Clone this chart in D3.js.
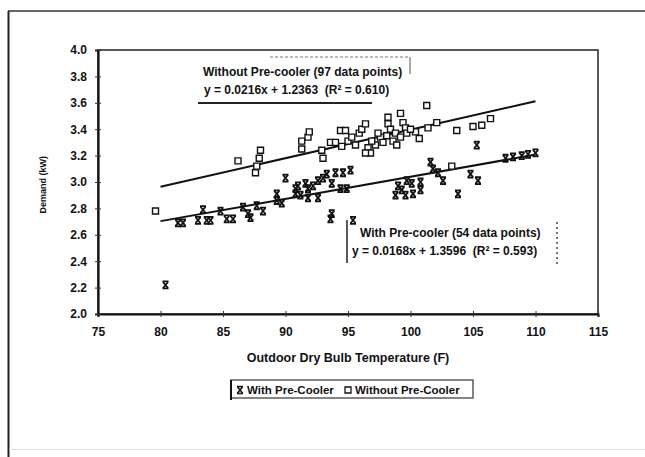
<!DOCTYPE html>
<meta charset="utf-8">
<head>
    <title>Demand vs Outdoor Dry Bulb Temperature</title>
    <style>
      body { margin: 0; background: #fff; }
      text { font-family: "Liberation Sans", Arial, sans-serif; font-weight: bold; fill: #111; white-space: pre; }
    </style>
</head>
<script src="https://d3js.org/d3.v7.min.js"></script>
<div id="my_dataviz"></div>
<script>

// ---- data ----
// with pre-cooler (x markers): temperature (F), demand (kW)
var withTemp = [80.4, 81.4, 81.8, 83.0, 83.4, 83.7, 84.0, 84.8, 85.3, 85.8, 86.6, 87.0, 87.2, 87.7, 88.2,
  89.3, 89.3, 89.7, 90.0, 90.8, 91.0, 91.6, 91.8, 92.2, 92.6, 93.0, 93.3, 94.0, 94.6, 95.2, 93.7, 94.4,
  94.9, 90.8, 91.2, 91.8, 92.6, 93.6, 93.7, 95.4, 99.0, 99.3, 99.6, 98.8, 99.7, 100.1, 100.8, 101.6,
  101.8, 102.2, 102.6, 100.8, 100.2, 103.8, 104.8, 105.4, 105.3, 107.6, 108.2, 108.9, 109.4, 110.0];
var withDemand = [2.22, 2.69, 2.69, 2.71, 2.79, 2.71, 2.71, 2.78, 2.72, 2.72, 2.81, 2.76, 2.73, 2.82, 2.78,
  2.91, 2.86, 2.84, 3.03, 2.95, 2.97, 2.99, 2.95, 2.97, 3.01, 3.03, 3.06, 3.07, 3.07, 3.09, 2.99, 2.95,
  2.95, 2.91, 2.90, 2.88, 2.88, 2.72, 2.76, 2.71, 2.97, 2.94, 2.90, 2.90, 3.01, 2.99, 3.00, 3.15,
  3.10, 3.07, 3.01, 2.94, 2.91, 2.91, 3.06, 3.01, 3.28, 3.18, 3.19, 3.20, 3.21, 3.22];

// without pre-cooler (square markers)
var withoutTemp = [79.6, 86.2, 87.6, 87.7, 87.9, 88.0, 91.3, 91.3, 91.8, 91.9, 92.9, 93.0, 93.6, 94.0, 94.4,
  94.8, 95.0, 95.3, 95.9, 96.1, 96.4, 96.6, 96.8, 96.4, 97.2, 97.6, 97.8, 98.1, 98.2, 98.2, 98.4, 98.6,
  98.8, 99.2, 99.4, 99.6, 99.7, 100.4, 101.3, 101.4, 102.1, 103.3, 103.7, 105.0, 105.7, 106.4, 99.2,
  94.5, 95.6, 97.4, 96.9, 98.9, 100.0, 100.7];
var withoutDemand = [2.78, 3.16, 3.07, 3.12, 3.18, 3.24, 3.31, 3.25, 3.34, 3.38, 3.24, 3.18, 3.30, 3.30, 3.39,
  3.39, 3.31, 3.34, 3.37, 3.40, 3.44, 3.26, 3.22, 3.22, 3.28, 3.34, 3.30, 3.35, 3.44, 3.49, 3.40, 3.31,
  3.37, 3.34, 3.45, 3.41, 3.37, 3.38, 3.58, 3.41, 3.45, 3.12, 3.39, 3.42, 3.43, 3.48, 3.52,
  3.27, 3.28, 3.37, 3.31, 3.28, 3.40, 3.33];

// trend lines (slope, intercept) and their range
var trendWithout = [0.0216, 1.2363];
var trendWith = [0.0168, 1.3596];
var trendRange = [80, 110];

var xTicks = [75, 80, 85, 90, 95, 100, 105, 110, 115];
var yTicks = [2.0, 2.2, 2.4, 2.6, 2.8, 3.0, 3.2, 3.4, 3.6, 3.8, 4.0];

var width = 645, height = 457;

var svg = d3.select("#my_dataviz")
  .append("svg")
    .attr("width", width)
    .attr("height", height);

// outer chart frame
svg.append("line").attr("x1", 8).attr("y1", 11).attr("x2", width).attr("y2", 11)
  .attr("stroke", "#333").attr("stroke-width", 1.5);
svg.append("line").attr("x1", 8.5).attr("y1", 11).attr("x2", 8.5).attr("y2", height)
  .attr("stroke", "#222").attr("stroke-width", 2);
svg.append("line").attr("x1", 9).attr("y1", 449.5).attr("x2", width).attr("y2", 449.5)
  .attr("stroke", "#ddd").attr("stroke-width", 1);

var xScale = d3.scaleLinear().domain([75, 115]).range([98, 598]);
var yScale = d3.scaleLinear().domain([2.0, 4.0]).range([314, 50]);

// plot area box
svg.append("rect")
  .attr("x", xScale(75)).attr("y", yScale(4))
  .attr("width", xScale(115) - xScale(75))
  .attr("height", yScale(2) - yScale(4))
  .attr("fill", "none").attr("stroke", "#222").attr("stroke-width", 1.5);

// axes
var xAxis = d3.axisBottom(xScale).tickValues(xTicks).tickSize(3).tickFormat(d3.format("d"));
var yAxis = d3.axisLeft(yScale).tickValues(yTicks).tickSize(3).tickFormat(d3.format(".1f"));

var gx = svg.append("g").attr("transform", "translate(0," + yScale(2) + ")").call(xAxis);
gx.select(".domain").attr("stroke", "#111").attr("stroke-width", 2.2);
gx.selectAll(".tick line").attr("y1", -3).attr("y2", 3).attr("stroke", "#333");
gx.selectAll(".tick text").attr("y", 13).style("font-size", "12px")
  .style("font-family", "'Liberation Sans', Arial, sans-serif").style("font-weight", "bold").attr("fill", "#111");

var gy = svg.append("g").attr("transform", "translate(" + xScale(75) + ",0)").call(yAxis);
gy.select(".domain").attr("stroke", "#111").attr("stroke-width", 2.2);
gy.selectAll(".tick line").attr("x1", -3).attr("x2", 3).attr("stroke", "#333");
gy.selectAll(".tick text").attr("x", -11).style("font-size", "12px")
  .style("font-family", "'Liberation Sans', Arial, sans-serif").style("font-weight", "bold").attr("fill", "#111");

// axis titles
svg.append("text")
  .attr("x", 348).attr("y", 362)
  .attr("text-anchor", "middle")
  .style("font-size", "12.5px")
  .text("Outdoor Dry Bulb Temperature (F)");

svg.append("text")
  .attr("transform", "translate(46," + yScale(2.98) + ") rotate(-90)")
  .attr("text-anchor", "middle")
  .style("font-size", "9px")
  .text("Demand (kW)");

// trend lines
function trendLine(t) {
  return d3.line()
    .x(function(d) { return xScale(d); })
    .y(function(d) { return yScale(t[0] * d + t[1]); })(trendRange);
}
svg.append("path").attr("d", trendLine(trendWithout))
  .attr("stroke", "#111").attr("stroke-width", 2).attr("fill", "none");
svg.append("path").attr("d", trendLine(trendWith))
  .attr("stroke", "#111").attr("stroke-width", 2).attr("fill", "none");

// markers
var squarePath = "M-3,-3H3V3H-3Z";
var xPath = "M-3,-3.5H3M-3,3.5H3M-2.5,-3L2.5,3M2.5,-3L-2.5,3";

svg.append("g").selectAll("path")
  .data(withoutTemp)
  .enter().append("path")
    .attr("transform", function(d, i) { return "translate(" + xScale(d) + "," + yScale(withoutDemand[i]) + ")"; })
    .attr("d", squarePath)
    .attr("fill", "#fff").attr("stroke", "#111").attr("stroke-width", 1.4);

svg.append("g").selectAll("path")
  .data(withTemp)
  .enter().append("path")
    .attr("transform", function(d, i) { return "translate(" + xScale(d) + "," + yScale(withDemand[i]) + ")"; })
    .attr("d", xPath)
    .attr("fill", "none").attr("stroke", "#111").attr("stroke-width", 1.8);

// annotation: without pre-cooler
var a1 = svg.append("g");
a1.append("line").attr("x1", 270).attr("y1", 57).attr("x2", 410).attr("y2", 57)
  .attr("stroke", "#777").attr("stroke-width", 1).attr("stroke-dasharray", "3,2");
a1.append("line").attr("x1", 410).attr("y1", 57).attr("x2", 410).attr("y2", 74)
  .attr("stroke", "#555").attr("stroke-width", 1);
a1.append("line").attr("x1", 198).attr("y1", 103).attr("x2", 372).attr("y2", 103)
  .attr("stroke", "#222").attr("stroke-width", 1.8);
a1.append("text").attr("x", 203).attr("y", 76).style("font-size", "12px")
  .text("Without Pre-cooler (97 data points)");
a1.append("text").attr("x", 204).attr("y", 94).style("font-size", "12px")
  .text("y = 0.0216x + 1.2363  (R² = 0.610)");

// annotation: with pre-cooler
var a2 = svg.append("g");
a2.append("line").attr("x1", 347).attr("y1", 220).attr("x2", 347).attr("y2", 263)
  .attr("stroke", "#222").attr("stroke-width", 1.5);
a2.append("line").attr("x1", 557).attr("y1", 222).attr("x2", 557).attr("y2", 265)
  .attr("stroke", "#444").attr("stroke-width", 1.5).attr("stroke-dasharray", "2,3");
a2.append("text").attr("x", 360).attr("y", 237).style("font-size", "12px")
  .text("With Pre-cooler (54 data points)");
a2.append("text").attr("x", 352).attr("y", 255).style("font-size", "12px")
  .text("y = 0.0168x + 1.3596  (R² = 0.593)");

// legend
var lg = svg.append("g");
lg.append("rect").attr("x", 231).attr("y", 380).attr("width", 242).attr("height", 18)
  .attr("fill", "none").attr("stroke", "#333").attr("stroke-width", 1.2);
lg.append("line").attr("x1", 231).attr("y1", 380).attr("x2", 231).attr("y2", 400)
  .attr("stroke", "#111").attr("stroke-width", 2);
lg.append("path").attr("transform", "translate(240,390)").attr("d", xPath)
  .attr("fill", "none").attr("stroke", "#111").attr("stroke-width", 1.5);
lg.append("text").attr("x", 247).attr("y", 394).style("font-size", "11.5px").text("With Pre-Cooler");
lg.append("path").attr("transform", "translate(348,390)").attr("d", squarePath)
  .attr("fill", "#fff").attr("stroke", "#111").attr("stroke-width", 1.3);
lg.append("text").attr("x", 355).attr("y", 394).style("font-size", "11.5px").text("Without Pre-Cooler");

</script>
